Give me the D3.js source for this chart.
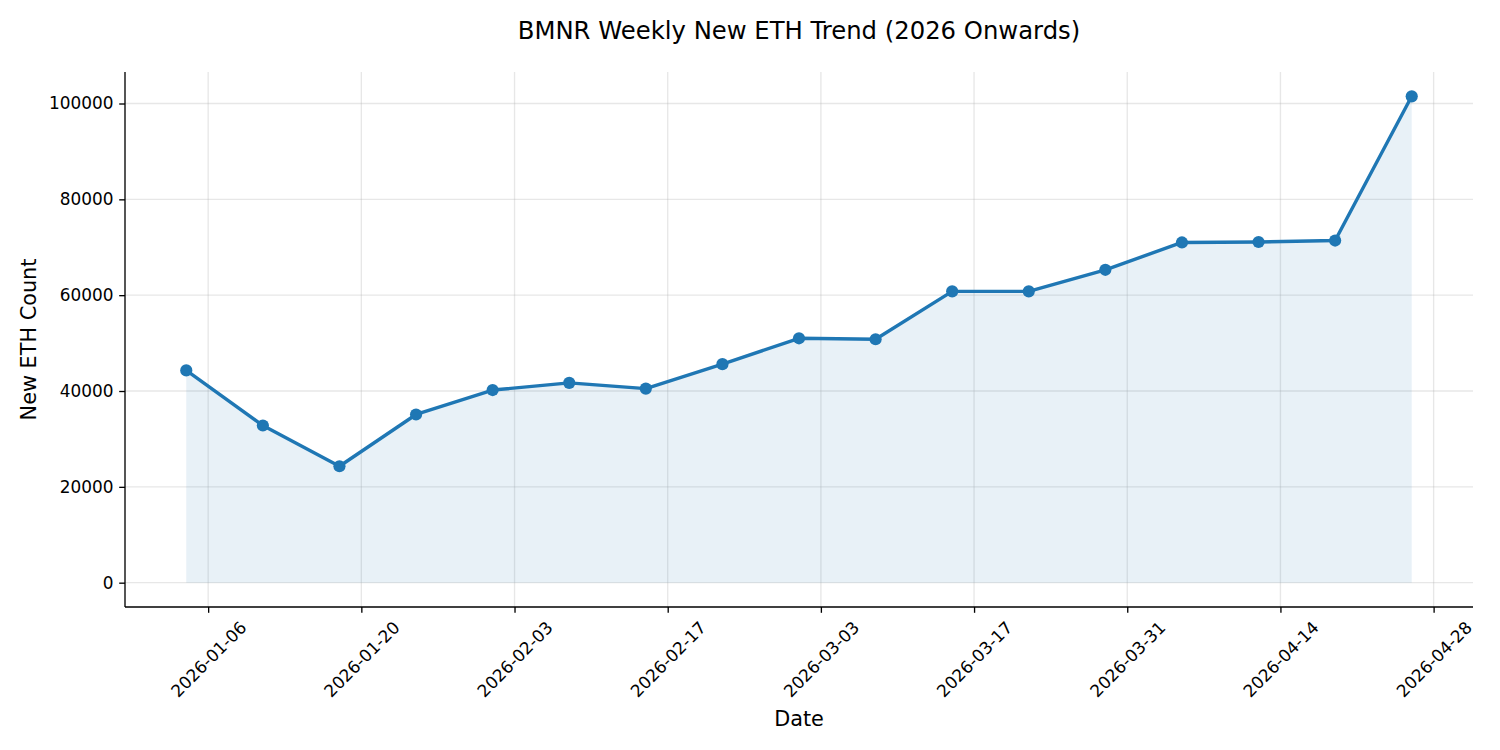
<!DOCTYPE html>
<html>
<head>
<meta charset="utf-8">
<script src="https://cdn.jsdelivr.net/npm/d3@7"></script>
<style>
  html, body { margin: 0; padding: 0; background: #fff; }
  svg { display: block; font-family: "DejaVu Sans", sans-serif; }
</style>
</head>
<body>
<svg id="chart" width="1500" height="750"></svg>
<script>
const dates = ["2026-01-04","2026-01-11","2026-01-18","2026-01-25","2026-02-01","2026-02-08","2026-02-15","2026-02-22","2026-03-01","2026-03-08","2026-03-15","2026-03-22","2026-03-29","2026-04-05","2026-04-12","2026-04-19","2026-04-26"];
const newEth = [44300, 32800, 24300, 35100, 40200, 41700, 40500, 45600, 51000, 50800, 60800, 60800, 65300, 71000, 71100, 71400, 101500];
const xTickLabels = ["2026-01-06","2026-01-20","2026-02-03","2026-02-17","2026-03-03","2026-03-17","2026-03-31","2026-04-14","2026-04-28"];
const yTickValues = [0, 20000, 40000, 60000, 80000, 100000];
const titleText = "BMNR Weekly New ETH Trend (2026 Onwards)";
const xLabel = "Date";
const yLabel = "New ETH Count";

const parse = d3.utcParse("%Y-%m-%d");
const data = dates.map((d, i) => ({ date: parse(d), value: newEth[i] }));

const svg = d3.select("#chart");
const m = { left: 125, right: 1473, top: 72, bottom: 607 };
const blue = "#1f77b4";
const tickFont = 16.9;

// matplotlib-like 5% margins
const xExt = d3.extent(data, d => d.date);
const xSpan = xExt[1] - xExt[0];
const x = d3.scaleUtc()
  .domain([new Date(+xExt[0] - xSpan * 0.05), new Date(+xExt[1] + xSpan * 0.05)])
  .range([m.left, m.right]);
const yMin = Math.min(0, d3.min(newEth)), yMax = d3.max(newEth);
const ySpan = yMax - yMin;
const y = d3.scaleLinear()
  .domain([yMin - ySpan * 0.05, yMax + ySpan * 0.05])
  .range([m.bottom, m.top]);

const xTicks = xTickLabels.map(parse);

// grid
const grid = svg.append("g");
grid.selectAll("line.vx").data(xTicks).enter().append("line")
  .attr("x1", d => x(d)).attr("x2", d => x(d))
  .attr("y1", m.top).attr("y2", m.bottom)
  .attr("stroke", "#b0b0b0").attr("stroke-opacity", 0.3).attr("stroke-width", 1.33);
grid.selectAll("line.hy").data(yTickValues).enter().append("line")
  .attr("x1", m.left).attr("x2", m.right)
  .attr("y1", d => y(d)).attr("y2", d => y(d))
  .attr("stroke", "#b0b0b0").attr("stroke-opacity", 0.3).attr("stroke-width", 1.33);

// area
const area = d3.area().x(d => x(d.date)).y0(y(0)).y1(d => y(d.value));
svg.append("path").datum(data).attr("d", area)
  .attr("fill", blue).attr("fill-opacity", 0.1);

// line
const line = d3.line().x(d => x(d.date)).y(d => y(d.value));
svg.append("path").datum(data).attr("d", line)
  .attr("fill", "none").attr("stroke", blue).attr("stroke-width", 3.4)
  .attr("stroke-linejoin", "round").attr("stroke-linecap", "round");

svg.append("g").selectAll("circle").data(data).enter().append("circle")
  .attr("cx", d => x(d.date)).attr("cy", d => y(d.value))
  .attr("r", 6.1).attr("fill", blue);

// axes
const xAxis = d3.axisBottom(x).tickValues(xTicks).tickSizeOuter(0).tickSize(5.8).tickPadding(5.8)
  .tickFormat(d3.utcFormat("%Y-%m-%d"));
const gx = svg.append("g").attr("transform", `translate(0,${m.bottom})`).call(xAxis);
gx.select(".domain").attr("stroke", "#000").attr("stroke-width", 1.33)
  .attr("d", `M${m.left},0H${m.right}`);
gx.selectAll(".tick line").attr("stroke", "#000").attr("stroke-width", 1.33);
gx.selectAll(".tick text")
  .attr("font-size", tickFont + "px").attr("fill", "#000")
  .attr("font-family", "DejaVu Sans")
  .each(function() {
    const t = d3.select(this);
    const L = this.getComputedTextLength();
    const h = tickFont * 0.75;
    const H = (L + h) * Math.SQRT1_2;
    const cy = 13 + H / 2;
    t.attr("text-anchor", "middle").attr("dy", null)
      .attr("dominant-baseline", "central")
      .attr("y", cy).attr("x", 0)
      .attr("transform", `rotate(-45, 0, ${cy})`);
  });

const yAxis = d3.axisLeft(y).tickValues(yTickValues).tickSizeOuter(0).tickSize(5.8).tickPadding(5.8)
  .tickFormat(d3.format("d"));
const gy = svg.append("g").attr("transform", `translate(${m.left},0)`).call(yAxis);
gy.select(".domain").attr("stroke", "#000").attr("stroke-width", 1.33)
  .attr("d", `M0,${m.top}V${m.bottom}`);
gy.selectAll(".tick line").attr("stroke", "#000").attr("stroke-width", 1.33);
gy.selectAll(".tick text").attr("font-size", tickFont + "px").attr("fill", "#000")
  .attr("font-family", "DejaVu Sans");

// labels
svg.append("text").attr("x", (m.left + m.right) / 2).attr("y", 38.5)
  .attr("text-anchor", "middle").attr("font-size", "24.3px").attr("fill", "#000")
  .text(titleText);
svg.append("text").attr("x", (m.left + m.right) / 2).attr("y", 726)
  .attr("text-anchor", "middle").attr("font-size", "20.8px").attr("fill", "#000")
  .text(xLabel);
svg.append("text")
  .attr("transform", `translate(36,${(m.top + m.bottom) / 2}) rotate(-90)`)
  .attr("text-anchor", "middle").attr("font-size", "20.8px").attr("fill", "#000")
  .text(yLabel);
</script>
</body>
</html>
